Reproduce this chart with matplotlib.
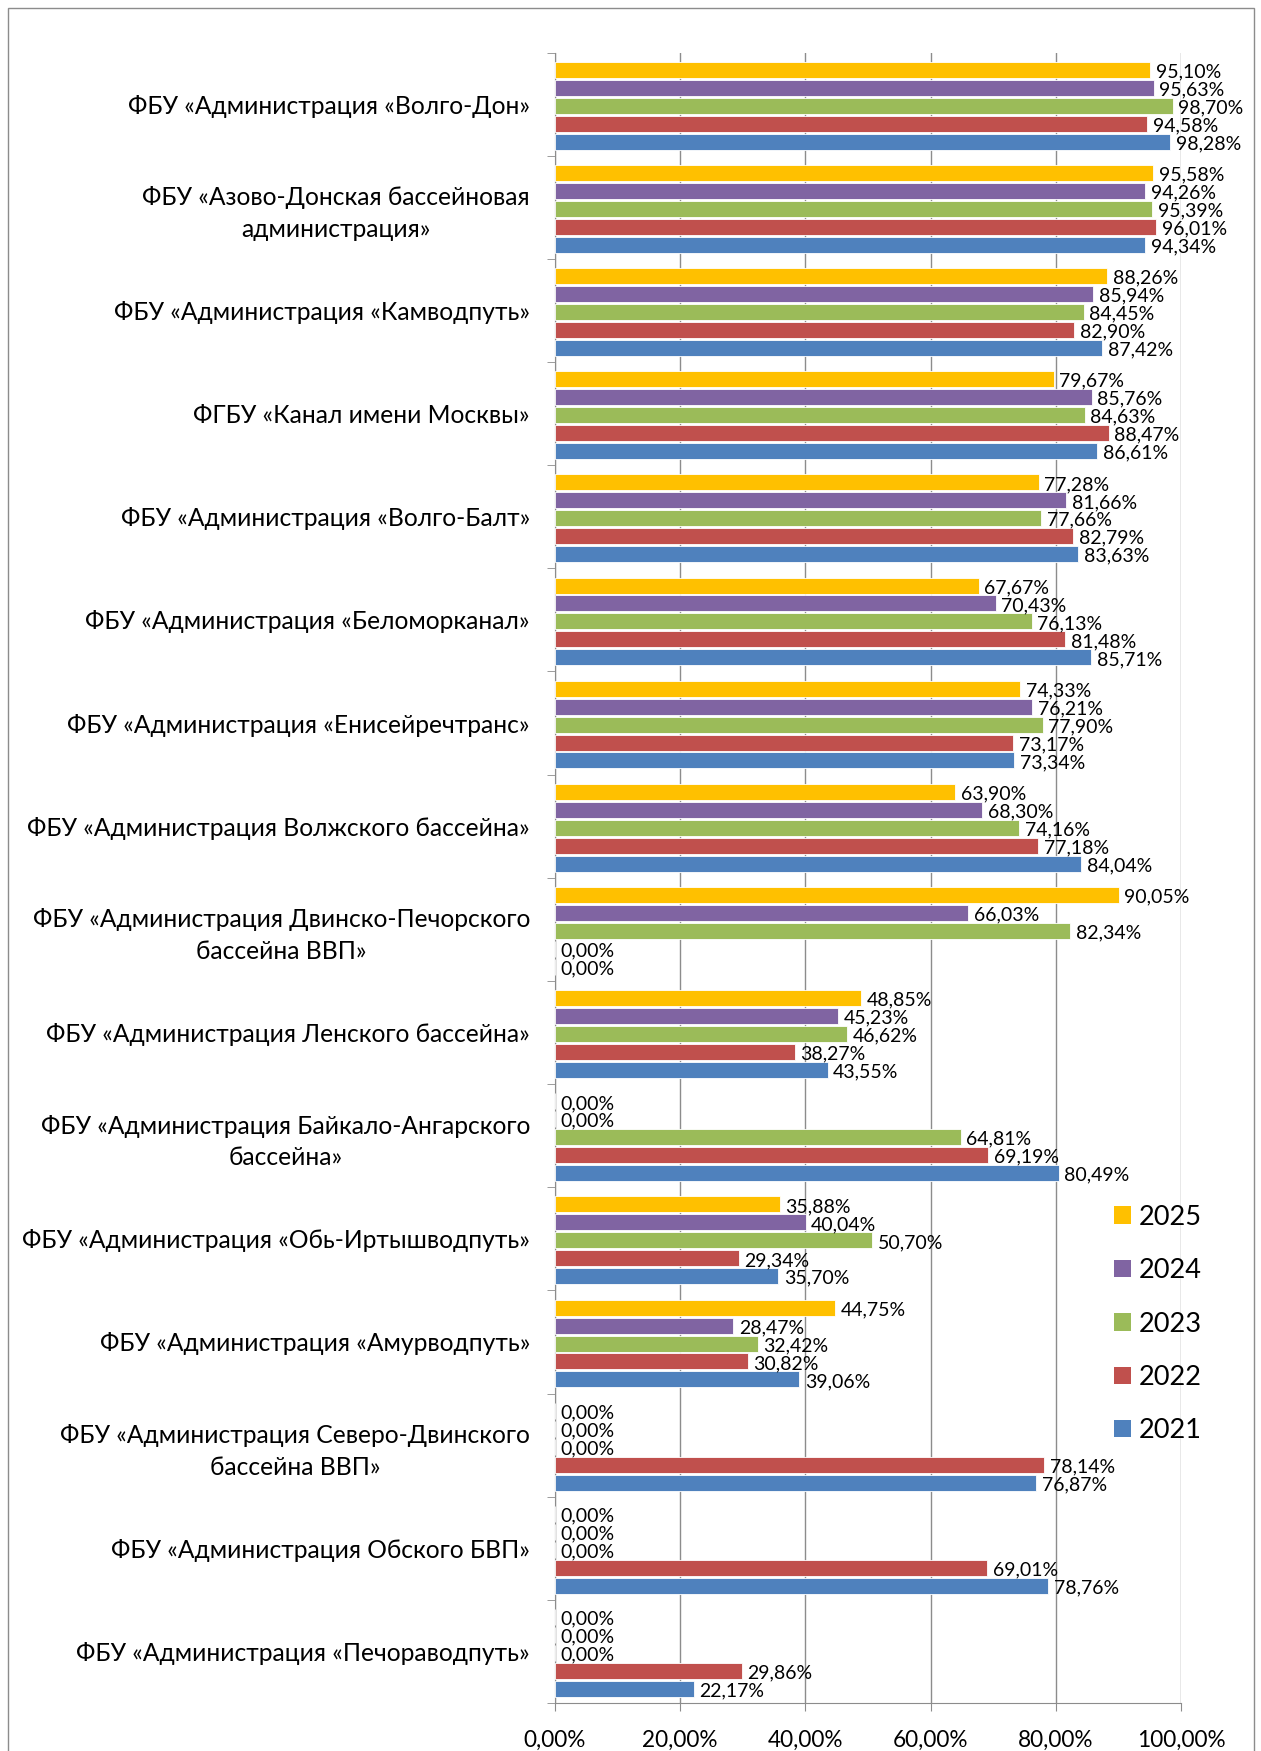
import numpy as np
import matplotlib.pyplot as plt
from matplotlib.patches import Patch, Rectangle

# Categories (top to bottom)
categories = [
    'ФБУ «Администрация «Волго-Дон»',
    'ФБУ «Азово-Донская бассейновая\nадминистрация»',
    'ФБУ «Администрация «Камводпуть»',
    'ФГБУ «Канал имени Москвы»',
    'ФБУ «Администрация «Волго-Балт»',
    'ФБУ «Администрация «Беломорканал»',
    'ФБУ «Администрация «Енисейречтранс»',
    'ФБУ «Администрация Волжского бассейна»',
    'ФБУ «Администрация Двинско-Печорского\nбассейна ВВП»',
    'ФБУ «Администрация Ленского бассейна»',
    'ФБУ «Администрация Байкало-Ангарского\nбассейна»',
    'ФБУ «Администрация «Обь-Иртышводпуть»',
    'ФБУ «Администрация «Амурводпуть»',
    'ФБУ «Администрация Северо-Двинского\nбассейна ВВП»',
    'ФБУ «Администрация Обского БВП»',
    'ФБУ «Администрация «Печораводпуть»',
]

# Values in percent, one list per year
y2025 = [95.10, 95.58, 88.26, 79.67, 77.28, 67.67, 74.33, 63.90, 90.05, 48.85, 0.00, 35.88, 44.75, 0.00, 0.00, 0.00]
y2024 = [95.63, 94.26, 85.94, 85.76, 81.66, 70.43, 76.21, 68.30, 66.03, 45.23, 0.00, 40.04, 28.47, 0.00, 0.00, 0.00]
y2023 = [98.70, 95.39, 84.45, 84.63, 77.66, 76.13, 77.90, 74.16, 82.34, 46.62, 64.81, 50.70, 32.42, 0.00, 0.00, 0.00]
y2022 = [94.58, 96.01, 82.90, 88.47, 82.79, 81.48, 73.17, 77.18, 0.00, 38.27, 69.19, 29.34, 30.82, 78.14, 69.01, 29.86]
y2021 = [98.28, 94.34, 87.42, 86.61, 83.63, 85.71, 73.34, 84.04, 0.00, 43.55, 80.49, 35.70, 39.06, 76.87, 78.76, 22.17]

years = ['2025', '2024', '2023', '2022', '2021']
series = [y2025, y2024, y2023, y2022, y2021]
colors = ['#FFC000', '#8064A2', '#9BBB59', '#C0504D', '#4F81BD']

FONT = ['Lato', 'DejaVu Sans']
plt.rcParams['font.family'] = FONT

fig = plt.figure(figsize=(12.61, 17.51), dpi=100)
ax = fig.add_axes([0.4401, 0.0274, 0.4964, 0.9426])

# outer chart border
fig.patches.append(Rectangle((8 / 1261, -0.05), (1254 - 8) / 1261, 1 - 8 / 1751 + 0.05,
                             transform=fig.transFigure, fill=False, edgecolor='#8c8c8c', linewidth=1))

n = len(categories)
slot = 0.174
bar_h = 0.155
y = np.arange(n)

for j, (yr, vals, c) in enumerate(zip(years, series, colors)):
    pos = y + (j - 2) * slot + 0.015
    ax.barh(pos, vals, height=bar_h, color=c, edgecolor='white', linewidth=0.6, zorder=3)
    for p, v in zip(pos, vals):
        ax.text(v + 0.9, p + 0.02, f'{v:.2f}%'.replace('.', ','), va='center', ha='left',
                fontsize=14, color='black', zorder=4)

ax.set_xlim(0, 100)
ax.set_ylim(n - 0.5, -0.5)
ax.set_xticks(np.arange(0, 101, 20))
ax.set_xticklabels([f'{t:.2f}%'.replace('.', ',') for t in range(0, 101, 20)], fontsize=16.3)
ax.tick_params(axis='x', length=6, color='#8c8c8c', pad=13)

ax.set_yticks(y)
ax.set_yticklabels(categories, fontsize=17.7, multialignment='center', linespacing=1.45)
ax.tick_params(axis='y', which='major', length=0, pad=18)
ax.set_yticks(np.arange(n + 1) - 0.5, minor=True)
ax.tick_params(axis='y', which='minor', length=6, color='#8c8c8c')

ax.grid(axis='x', color='#8c8c8c', linewidth=1, zorder=0)
for s in ['top', 'right']:
    ax.spines[s].set_visible(False)
ax.spines['left'].set_color('#8c8c8c')
ax.spines['bottom'].set_color('#8c8c8c')

handles = [Patch(facecolor=c, edgecolor='none') for c in colors]
fig.legend(handles, years, loc='center left', bbox_to_anchor=(1090 / 1261, 1 - 1324 / 1751),
           frameon=False, fontsize=19.5, handlelength=0.6, handleheight=0.6,
           handletextpad=0.3, labelspacing=1.05)

plt.savefig('out.png', dpi=100)
